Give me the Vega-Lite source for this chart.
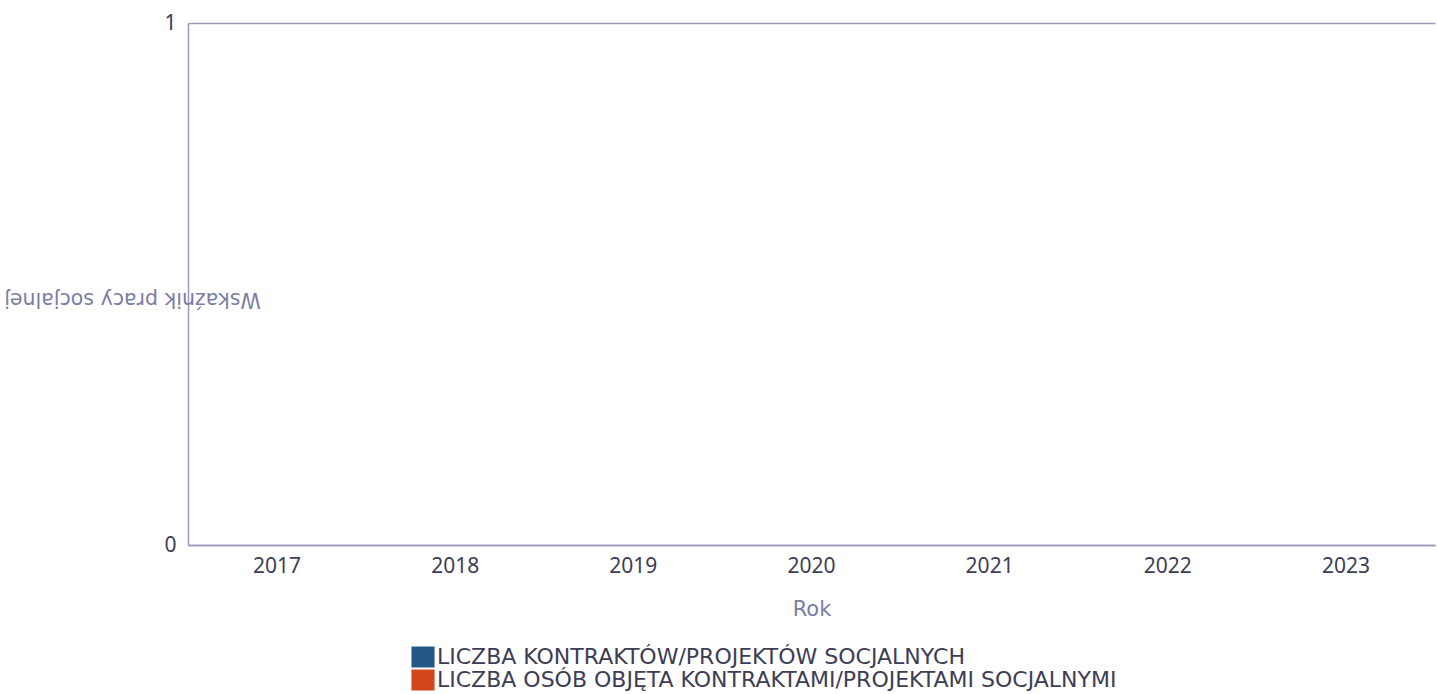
{
  "$schema": "https://vega.github.io/schema/vega-lite/v6.json",
  "autosize": {"type": "none"},
  "padding": {"left": 188, "top": 23, "right": 2, "bottom": 149},
  "width": 1247,
  "height": 522,
  "background": "white",
  "config": {
    "font": "Noto Sans",
    "view": {"stroke": null}
  },
  "data": {
    "values": [
      {"rok": "2017", "seria": "LICZBA KONTRAKTÓW/PROJEKTÓW SOCJALNYCH", "wartosc": 0},
      {"rok": "2017", "seria": "LICZBA OSÓB OBJĘTA KONTRAKTAMI/PROJEKTAMI SOCJALNYMI", "wartosc": 0},
      {"rok": "2018", "seria": "LICZBA KONTRAKTÓW/PROJEKTÓW SOCJALNYCH", "wartosc": 0},
      {"rok": "2018", "seria": "LICZBA OSÓB OBJĘTA KONTRAKTAMI/PROJEKTAMI SOCJALNYMI", "wartosc": 0},
      {"rok": "2019", "seria": "LICZBA KONTRAKTÓW/PROJEKTÓW SOCJALNYCH", "wartosc": 0},
      {"rok": "2019", "seria": "LICZBA OSÓB OBJĘTA KONTRAKTAMI/PROJEKTAMI SOCJALNYMI", "wartosc": 0},
      {"rok": "2020", "seria": "LICZBA KONTRAKTÓW/PROJEKTÓW SOCJALNYCH", "wartosc": 0},
      {"rok": "2020", "seria": "LICZBA OSÓB OBJĘTA KONTRAKTAMI/PROJEKTAMI SOCJALNYMI", "wartosc": 0},
      {"rok": "2021", "seria": "LICZBA KONTRAKTÓW/PROJEKTÓW SOCJALNYCH", "wartosc": 0},
      {"rok": "2021", "seria": "LICZBA OSÓB OBJĘTA KONTRAKTAMI/PROJEKTAMI SOCJALNYMI", "wartosc": 0},
      {"rok": "2022", "seria": "LICZBA KONTRAKTÓW/PROJEKTÓW SOCJALNYCH", "wartosc": 0},
      {"rok": "2022", "seria": "LICZBA OSÓB OBJĘTA KONTRAKTAMI/PROJEKTAMI SOCJALNYMI", "wartosc": 0},
      {"rok": "2023", "seria": "LICZBA KONTRAKTÓW/PROJEKTÓW SOCJALNYCH", "wartosc": 0},
      {"rok": "2023", "seria": "LICZBA OSÓB OBJĘTA KONTRAKTAMI/PROJEKTAMI SOCJALNYMI", "wartosc": 0}
    ]
  },
  "mark": {"type": "bar"},
  "encoding": {
    "x": {
      "field": "rok",
      "type": "nominal",
      "title": "Rok",
      "scale": {"paddingInner": 0.2, "paddingOuter": 0.1},
      "axis": {
        "labelAngle": 0,
        "labelFontSize": 21,
        "labelColor": "#3d3d55",
        "labelPadding": 10,
        "ticks": false,
        "domainColor": "#9a9abb",
        "domainWidth": 1.5,
        "titleFont": "DejaVu Sans",
        "titleFontSize": 21,
        "titleFontWeight": "normal",
        "titleColor": "#7b7ca6",
        "titlePadding": 22
      }
    },
    "xOffset": {"field": "seria", "type": "nominal"},
    "y": {
      "field": "wartosc",
      "type": "quantitative",
      "title": "Wskaźnik pracy socjalnej",
      "scale": {"domain": [0, 1]},
      "axis": {
        "values": [0, 1],
        "format": "d",
        "labelFontSize": 21,
        "labelColor": "#3d3d55",
        "labelPadding": 12,
        "ticks": false,
        "grid": true,
        "gridColor": "#9a9abb",
        "gridWidth": 1.5,
        "domainColor": "#9a9abb",
        "domainWidth": 1.5,
        "titleFont": "DejaVu Sans",
        "titleFontSize": 20.5,
        "titleFontWeight": "normal",
        "titleColor": "#7b7ca6",
        "titleAngle": 180,
        "titleAlign": "center",
        "titleBaseline": "middle",
        "titleX": -56,
        "titleY": 275
      }
    },
    "color": {
      "field": "seria",
      "type": "nominal",
      "scale": {
        "domain": ["LICZBA KONTRAKTÓW/PROJEKTÓW SOCJALNYCH", "LICZBA OSÓB OBJĘTA KONTRAKTAMI/PROJEKTAMI SOCJALNYMI"],
        "range": ["#245886", "#d2461e"]
      },
      "legend": {
        "title": null,
        "orient": "none",
        "legendX": 224,
        "legendY": 623,
        "direction": "vertical",
        "symbolType": "M-1.1,-1L1.1,-1L1.1,1L-1.1,1Z",
        "symbolSize": 441,
        "symbolStrokeWidth": 0,
        "symbolOpacity": 1,
        "rowPadding": 1,
        "labelFont": "DejaVu Sans",
        "labelFontSize": 22,
        "labelColor": "#3d3d55",
        "labelOffset": 3,
        "labelLimit": 800,
        "encoding": {
          "symbols": {
            "fill": {
              "condition": {"test": "indexof(datum.value, 'OSÓB') >= 0", "value": {"gradient": "linear", "x1": 0, "y1": 0, "x2": 1, "y2": 0, "stops": [
                {"offset": 0, "color": "#d2461e"},
                {"offset": 0.12, "color": "#d2461e"},
                {"offset": 0.12, "color": "#ec8e64"},
                {"offset": 0.18, "color": "#ec8e64"},
                {"offset": 0.18, "color": "#d95028"},
                {"offset": 0.3, "color": "#d95028"},
                {"offset": 0.3, "color": "#f2ad8c"},
                {"offset": 0.36, "color": "#f2ad8c"},
                {"offset": 0.36, "color": "#e0633a"},
                {"offset": 0.44, "color": "#e0633a"},
                {"offset": 0.44, "color": "#f7cdb8"},
                {"offset": 0.5, "color": "#f7cdb8"},
                {"offset": 0.5, "color": "#e47448"},
                {"offset": 0.58, "color": "#e47448"},
                {"offset": 0.58, "color": "#f0a07c"},
                {"offset": 0.64, "color": "#f0a07c"},
                {"offset": 0.64, "color": "#d0441c"},
                {"offset": 0.78, "color": "#d0441c"},
                {"offset": 0.78, "color": "#e67e55"},
                {"offset": 0.83, "color": "#e67e55"},
                {"offset": 0.83, "color": "#c43c18"},
                {"offset": 1, "color": "#c43c18"}
              ]}},
              "value": {"gradient": "linear", "x1": 0, "y1": 0, "x2": 1, "y2": 0, "stops": [
                {"offset": 0, "color": "#245886"},
                {"offset": 0.12, "color": "#245886"},
                {"offset": 0.12, "color": "#6f98c2"},
                {"offset": 0.18, "color": "#6f98c2"},
                {"offset": 0.18, "color": "#2a5f90"},
                {"offset": 0.3, "color": "#2a5f90"},
                {"offset": 0.3, "color": "#9ab8d6"},
                {"offset": 0.36, "color": "#9ab8d6"},
                {"offset": 0.36, "color": "#3a6c9c"},
                {"offset": 0.44, "color": "#3a6c9c"},
                {"offset": 0.44, "color": "#c4d6e8"},
                {"offset": 0.5, "color": "#c4d6e8"},
                {"offset": 0.5, "color": "#4e80ae"},
                {"offset": 0.58, "color": "#4e80ae"},
                {"offset": 0.58, "color": "#88aacc"},
                {"offset": 0.64, "color": "#88aacc"},
                {"offset": 0.64, "color": "#1f4f7c"},
                {"offset": 0.78, "color": "#1f4f7c"},
                {"offset": 0.78, "color": "#4d7cab"},
                {"offset": 0.83, "color": "#4d7cab"},
                {"offset": 0.83, "color": "#1a4470"},
                {"offset": 1, "color": "#1a4470"}
              ]}
            }
          }
        }
      }
    }
  }
}
